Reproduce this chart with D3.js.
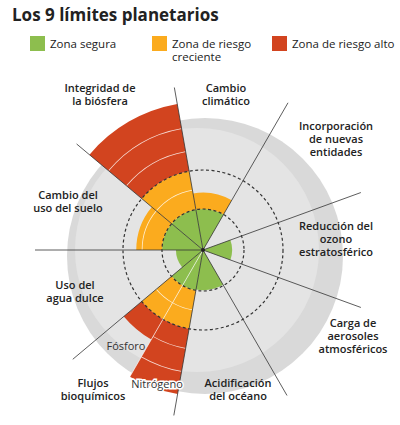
<!DOCTYPE html><html><head><meta charset="utf-8"><script src="https://cdn.jsdelivr.net/npm/d3@7"></script>
<style>body{margin:0;background:#fff}text{font-family:"Open Sans",sans-serif}</style></head><body><svg id="c" width="400" height="425"></svg>
<script>
const title="Los 9 límites planetarios";
const legendLabels=[["Zona segura"],["Zona de riesgo","creciente"],["Zona de riesgo alto"]];
const zoneColors=["#8dbe4e","#fbab1e","#d2441f"];
const sectorStart=[-10,30,70,110,150,190,210,230,270,310];
const sectorNames=["Cambio climático","Nuevas entidades","Ozono","Aerosoles","Acidificación","Nitrógeno","Fósforo","Agua dulce","Uso del suelo","Biósfera"];
const sectorEnd=[30,70,110,150,190,210,230,270,310,350];
const sectorValue=[1.42,0,0.71,0,0.98,3.7,2.6,0.66,1.66,3.75];
const labels=[
 {t:["Integridad de","la biósfera"],x:100,y:92},
 {t:["Cambio","climático"],x:226,y:92},
 {t:["Incorporación","de nuevas","entidades"],x:336,y:130},
 {t:["Reducción del","ozono","estratosférico"],x:336,y:230},
 {t:["Carga de","aerosoles","atmosféricos"],x:353,y:327},
 {t:["Acidificación","del océano"],x:238,y:387},
 {t:["Flujos","bioquímicos"],x:93,y:387},
 {t:["Uso del","agua dulce"],x:75,y:289},
 {t:["Cambio del","uso del suelo"],x:68,y:199}];
const svg=d3.select("#c");
const cx=203,cy=250;
svg.append("text").attr("x",12).attr("y",21).attr("font-family","DejaVu Serif").attr("font-weight","bold").attr("font-size",17).attr("fill","#222").text(title);
const lx=[30,152,272];
legendLabels.forEach((l,i)=>{
 svg.append("rect").attr("x",lx[i]).attr("y",36).attr("width",15).attr("height",15).attr("fill",zoneColors[i]);
 l.forEach((s,j)=>svg.append("text").attr("x",lx[i]+20).attr("y",48+j*13).attr("font-size",11.5).attr("fill","#222").text(s));
});
const r=d3.scaleLinear().domain([0,1,2]).range([0,41,80]);
const g=svg.append("g").attr("transform",`translate(${cx},${cy})`);
g.append("circle").attr("cx",2).attr("cy",6).attr("r",138).attr("fill","#d9d9d9");
g.append("circle").attr("cx",-6).attr("cy",0).attr("r",122).attr("fill","#e4e4e4");
const arc=d3.arc();
const rad=d=>d*Math.PI/180;
sectorValue.forEach((v,i)=>{
 const a0=rad(sectorStart[i]),a1=rad(sectorEnd[i]);
 const bands=[[0,Math.min(v,1)],[1,Math.min(v,2)],[2,v]];
 bands.forEach((b,k)=>{ if(b[1]>b[0]) g.append("path").attr("d",arc({innerRadius:r(b[0]),outerRadius:r(b[1]),startAngle:a0,endAngle:a1})).attr("fill",zoneColors[k]);});
 [1.5,2.5,3.1].forEach(t=>{ if(v>t+0.1) g.append("path").attr("d",arc({innerRadius:r(t),outerRadius:r(t)+0.8,startAngle:a0,endAngle:a1})).attr("fill","#fff").attr("opacity",0.8);});
});
[1,2].forEach(t=>g.append("circle").attr("r",r(t)).attr("fill","none").attr("stroke","#333").attr("stroke-width",1.2).attr("stroke-dasharray","3,2.5"));
const lineLen=[165,170,168,168,168,168,170,168,165];
[-10,30,70,110,150,190,230,270,310].forEach((a,i)=>{
 g.append("line").attr("x1",0).attr("y1",0).attr("x2",lineLen[i]*Math.sin(rad(a))).attr("y2",-lineLen[i]*Math.cos(rad(a))).attr("stroke","#333").attr("stroke-width",0.8);
});
g.append("line").attr("x1",0).attr("y1",0).attr("x2",150*Math.sin(rad(210))).attr("y2",-150*Math.cos(rad(210))).attr("stroke","#fff").attr("stroke-width",0.8).attr("opacity",0.8);
g.append("circle").attr("r",2).attr("fill","#222");
labels.forEach(l=>{
 l.t.forEach((s,j)=>svg.append("text").attr("text-anchor","middle").attr("font-size",11).attr("font-weight",600).attr("fill","#222").attr("x",l.x).attr("y",l.y+j*13).text(s));
});
svg.append("text").attr("x",126).attr("y",350).attr("text-anchor","middle").attr("font-size",11).attr("fill","#333").text("Fósforo");
svg.append("text").attr("x",157).attr("y",388).attr("text-anchor","middle").attr("font-size",11).attr("fill","#333").attr("stroke","#fff").attr("stroke-width",3).attr("paint-order","stroke").text("Nitrógeno");
</script></body></html>
